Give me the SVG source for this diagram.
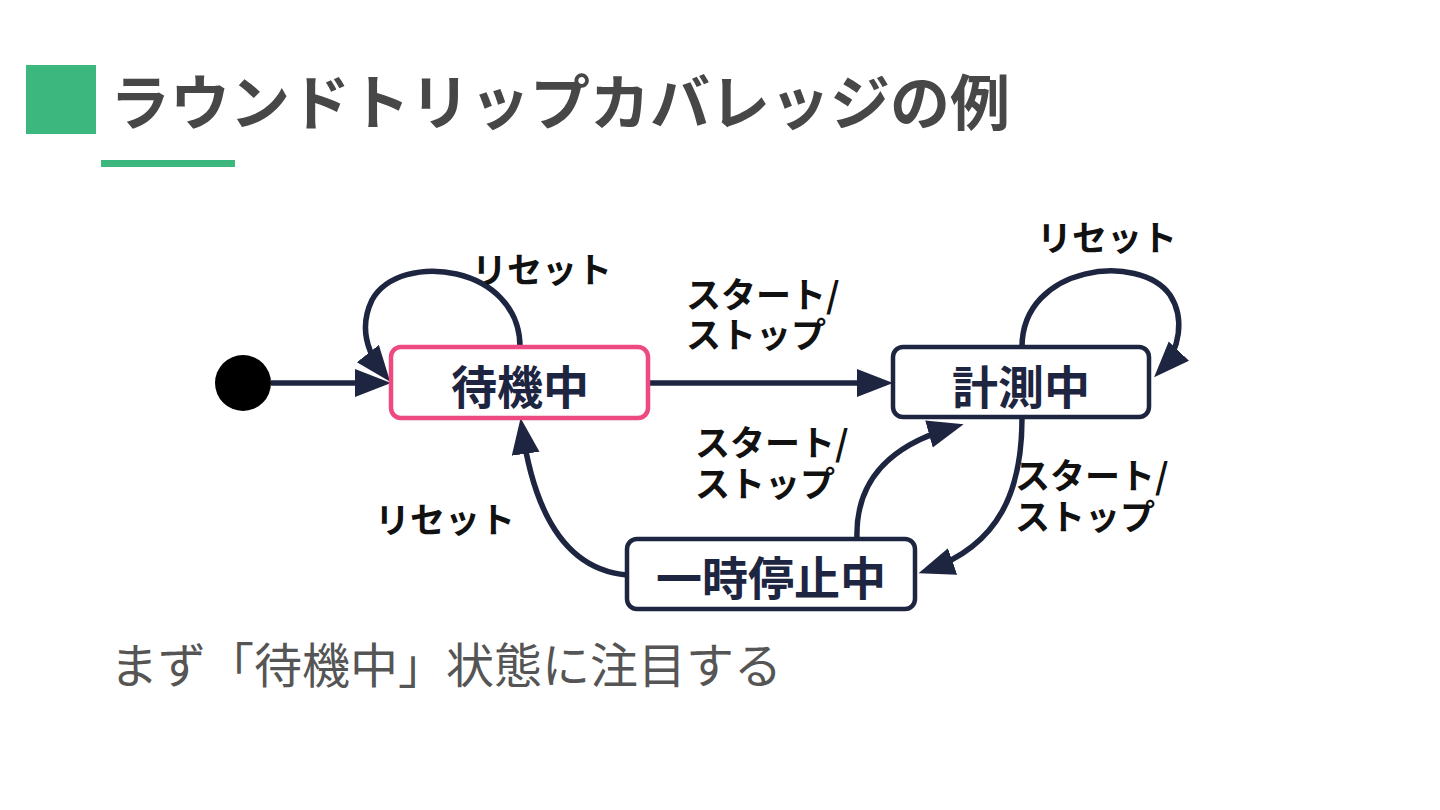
<svg xmlns="http://www.w3.org/2000/svg" width="1440" height="810" viewBox="0 0 1440 810">
<defs>
<style>
.title{font-family:"Noto Sans CJK JP","Noto Sans",sans-serif;font-weight:700;font-size:60px;fill:#474747;dominant-baseline:central}
.sub{font-family:"Noto Sans CJK JP","Noto Sans",sans-serif;font-weight:400;font-size:48px;fill:#555;dominant-baseline:central}
.box{fill:#fff;stroke:#1d2540;stroke-width:4.5}
.box.active{stroke:#ee4a82}
.ntext{font-family:"Noto Sans CJK JP","Noto Sans",sans-serif;font-weight:700;font-size:46px;fill:#1d2540;text-anchor:middle;dominant-baseline:central}
.lbl{font-family:"Noto Sans CJK JP","Noto Sans",sans-serif;font-weight:700;font-size:35px;fill:#111;dominant-baseline:central}
.mid{text-anchor:middle}
.edge{fill:none;stroke:#1d2540;stroke-width:5.5;marker-end:url(#arr)}
</style>
<marker id="arr" markerUnits="userSpaceOnUse" markerWidth="40" markerHeight="30" refX="26" refY="14" orient="auto">
<path d="M0,0 L36,14 L0,28 z" fill="#1d2540"/>
</marker>
</defs>
<rect width="1440" height="810" fill="#fff"/>
<g id="header">
<rect x="26" y="65" width="70" height="69" fill="#3cb77e"/>
<text class="title" x="110" y="98">ラウンドトリップカバレッジの例</text>
<rect x="101" y="160" width="134" height="7" fill="#3cb77e"/>
</g>
<g id="connectors">
<path class="edge" d="M271,383 L381,383"/>
<path class="edge" d="M648,383 L883,383"/>
<path class="edge" d="M520,347 C520,265 400,250 372,300 C360,325 365,350 384,374"/>
<path class="edge" d="M1022,347 C1022,265 1140,252 1170,295 C1185,318 1180,350 1161,370"/>
<path class="edge" d="M627,575 C570,570 535,520 522,428"/>
<path class="edge" d="M857,539 C855,480 890,445 954,427"/>
<path class="edge" d="M1022,418 C1022,490 1000,545 928,570"/>
</g>
<g id="initial">
<circle cx="243" cy="383" r="28" fill="#000"/>
</g>
<g id="node-waiting">
<rect class="box active" x="391" y="347" width="257" height="71" rx="10"/>
<text class="ntext" x="520" y="384">待機中</text>
</g>
<g id="node-measuring">
<rect class="box" x="893" y="347" width="256" height="70" rx="10"/>
<text class="ntext" x="1021" y="384">計測中</text>
</g>
<g id="node-paused">
<rect class="box" x="627" y="539" width="288" height="70" rx="10"/>
<text class="ntext" x="771" y="575">一時停止中</text>
</g>
<g id="labels">
<text class="lbl mid" x="542" y="267">リセット</text>
<text class="lbl mid" x="1107" y="235">リセット</text>
<text class="lbl"><tspan x="686" y="292">スタート/</tspan><tspan x="686" y="332">ストップ</tspan></text>
<text class="lbl"><tspan x="695" y="440">スタート/</tspan><tspan x="695" y="481">ストップ</tspan></text>
<text class="lbl"><tspan x="1015" y="473">スタート/</tspan><tspan x="1015" y="514">ストップ</tspan></text>
<text class="lbl mid" x="445" y="517">リセット</text>
</g>
<text class="sub" x="110" y="662">まず「待機中」状態に注目する</text>
</svg>
